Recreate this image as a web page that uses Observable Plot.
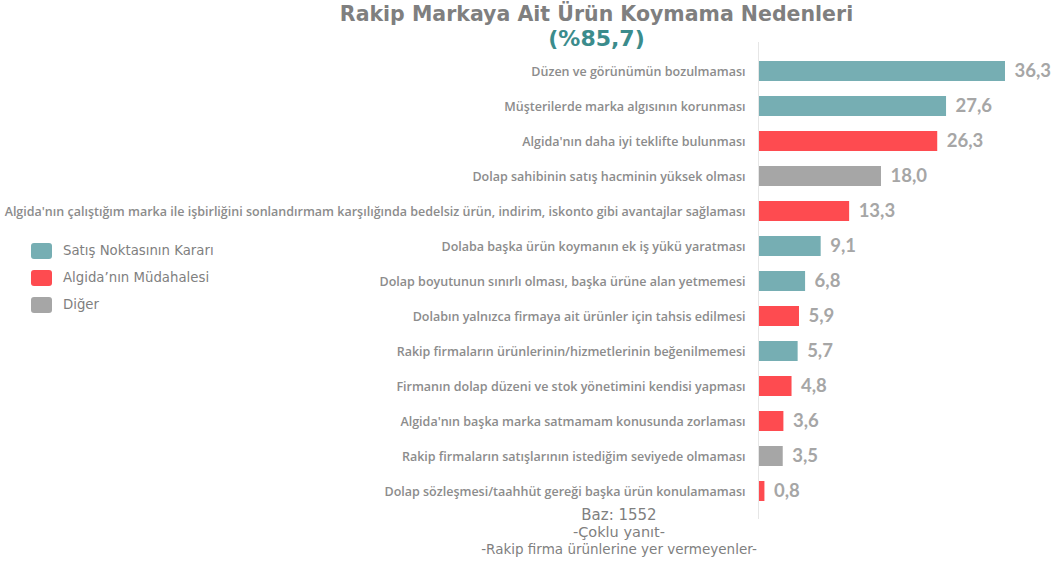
<!DOCTYPE html>
<html><head><meta charset="utf-8">
<script src="https://cdn.jsdelivr.net/npm/d3@7"></script>
<script src="https://cdn.jsdelivr.net/npm/@observablehq/plot@0.6"></script>
<style>
body{margin:0;background:#fff;width:1051px;height:562px;overflow:hidden;position:relative;font-family:"DejaVu Sans",Verdana,sans-serif;}
#chart{position:absolute;left:0;top:0;}
.title{position:absolute;left:0;width:1193px;text-align:center;top:3px;font:bold 20.5px "DejaVu Sans",Verdana,sans-serif;color:#7f7f7f;line-height:23px;}
.sub{position:absolute;left:0;width:1193px;text-align:center;top:27px;font:bold 22px "DejaVu Sans",Verdana,sans-serif;color:#3b8c8c;line-height:23px;}
.legend{position:absolute;left:31px;top:237px;font:13.3px "DejaVu Sans",Verdana,sans-serif;color:#7f7f7f;}
.legend div{display:flex;align-items:center;height:27px;}
.legend span.sw{display:inline-block;width:21px;height:16px;border-radius:3px;margin-right:11px;}
.foot{position:absolute;left:0;width:1238px;text-align:center;color:#7f7f7f;font-family:"DejaVu Sans",Verdana,sans-serif;line-height:17px;}
</style></head>
<body>
<div id="chart"></div>
<div class="title">Rakip Markaya Ait Ürün Koymama Nedenleri</div>
<div class="sub">(%85,7)</div>
<div class="legend" id="legend"></div>
<div class="foot" style="top:507px;font-size:15px;">Baz: 1552</div>
<div class="foot" style="top:524px;font-size:14.5px;">-Çoklu yanıt-</div>
<div class="foot" style="top:541px;font-size:13.5px;">-Rakip firma ürünlerine yer vermeyenler-</div>
<script>
const categories = [
  "Düzen ve görünümün bozulmaması",
  "Müşterilerde marka algısının korunması",
  "Algida'nın daha iyi teklifte bulunması",
  "Dolap sahibinin satış hacminin yüksek olması",
  "Algida'nın çalıştığım marka ile işbirliğini sonlandırmam karşılığında bedelsiz ürün, indirim, iskonto gibi avantajlar sağlaması",
  "Dolaba başka ürün koymanın ek iş yükü yaratması",
  "Dolap boyutunun sınırlı olması, başka ürüne alan yetmemesi",
  "Dolabın yalnızca firmaya ait ürünler için tahsis edilmesi",
  "Rakip firmaların ürünlerinin/hizmetlerinin beğenilmemesi",
  "Firmanın dolap düzeni ve stok yönetimini kendisi yapması",
  "Algida'nın başka marka satmamam konusunda zorlaması",
  "Rakip firmaların satışlarının istediğim seviyede olmaması",
  "Dolap sözleşmesi/taahhüt gereği başka ürün konulamaması"
];
const values = [36.3, 27.6, 26.3, 18.0, 13.3, 9.1, 6.8, 5.9, 5.7, 4.8, 3.6, 3.5, 0.8];
const groups = ["Satış Noktasının Kararı","Satış Noktasının Kararı","Algida’nın Müdahalesi","Diğer","Algida’nın Müdahalesi","Satış Noktasının Kararı","Satış Noktasının Kararı","Algida’nın Müdahalesi","Satış Noktasının Kararı","Algida’nın Müdahalesi","Algida’nın Müdahalesi","Diğer","Algida’nın Müdahalesi"];
const legendNames = ["Satış Noktasının Kararı","Algida’nın Müdahalesi","Diğer"];
const legendColors = ["#76aeb3","#fe4b50","#a6a6a6"];

const data = categories.map((c,i)=>({cat:c, value:values[i], group:groups[i]}));

const plot = Plot.plot({
  width:1051, height:562,
  marginTop:42, marginBottom:43, marginLeft:759, marginRight:46,
  x:{domain:[0,36.3], axis:null},
  y:{domain:categories, padding:0.43, axis:null},
  color:{domain:legendNames, range:legendColors},
  marks:[
    Plot.ruleX([0],{stroke:"#e6e6e6", strokeWidth:1, dx:-1}),
    Plot.barX(data,{y:"cat", x:"value", fill:"group"}),
    Plot.text(data,{y:"cat", x:0, text:"cat", textAnchor:"end", dx:-14, fill:"#8c8c8c", fontSize:12.5, fontWeight:600, fontFamily:"Open Sans"}),
    Plot.text(data,{y:"cat", x:"value", text:d=>d.value.toFixed(1).replace(".",","), textAnchor:"start", dx:9, fill:"#a6a6a6", fontSize:18.5, fontWeight:"bold", fontFamily:"Lato"})
  ]
});
document.getElementById("chart").appendChild(plot);

const lg = document.getElementById("legend");
legendNames.forEach((n,i)=>{
  const d = document.createElement("div");
  d.innerHTML = `<span class="sw" style="background:${legendColors[i]}"></span>${n}`;
  lg.appendChild(d);
});
</script>
</body></html>
